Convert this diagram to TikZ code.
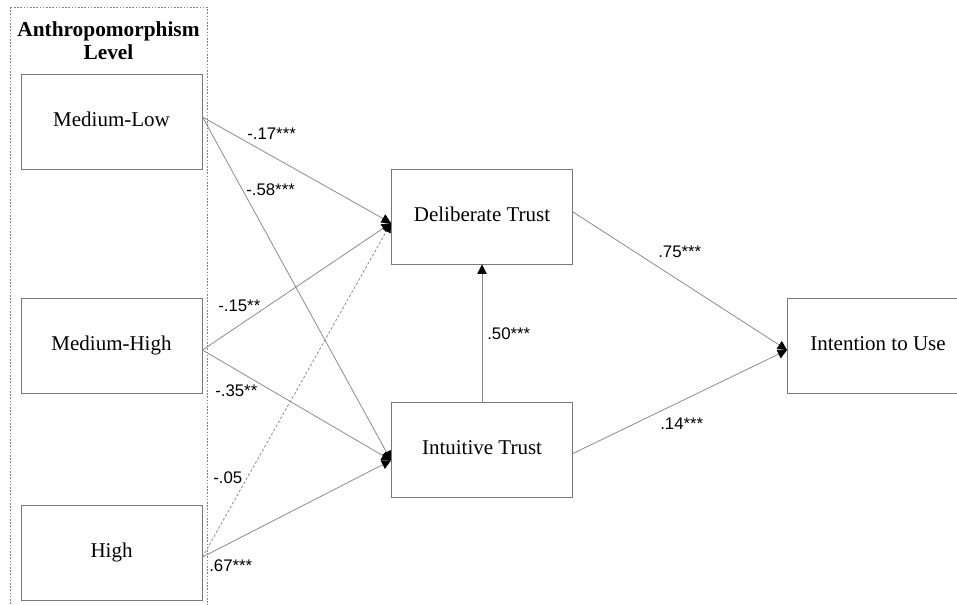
\documentclass[tikz,border=0pt]{standalone}
\usepackage{fontspec}
\setmainfont{Liberation Serif}
\newfontfamily\coeffont{Liberation Sans}
\usetikzlibrary{arrows.meta}

\definecolor{boxgray}{RGB}{120,120,120}
\definecolor{linegray}{RGB}{140,140,140}
\definecolor{framegray}{RGB}{130,130,130}

\tikzset{
  box/.style={draw=boxgray, line width=0.7pt, minimum width=135.75pt, minimum height=71.25pt,
    inner sep=0pt, font=\fontsize{15.75}{18}\selectfont, text height=0.8em, text depth=0.1em},
  link/.style={draw=linegray, line width=0.6pt, -{Triangle[length=7pt,width=7pt,color=black]}},
  weak/.style={link, dash pattern=on 2pt off 1.5pt},
  coef/.style={anchor=base west, inner sep=0pt, font=\coeffont\fontsize{12.6}{14}\selectfont}
}

\begin{document}
\begin{tikzpicture}[x=0.75pt, y=-0.75pt]
% Canvas
\path[use as bounding box, fill=white] (0,0) rectangle (957,605);
\clip (0,0) rectangle (957,605);

% Predictor group
\draw[framegray, line width=0.6pt, dash pattern=on 1.2pt off 1.2pt] (10,7) rectangle (207,640);
\node[anchor=north, align=center, inner sep=0pt, font=\bfseries\fontsize{16}{17.25}\selectfont] (title) at (108.5,21.5) {Anthropomorphism\\Level};

% Boxes
\node[box] (ML) at (111.5,121.5) {Medium-Low};
\node[box] (MH) at (111.5,345.5) {Medium-High};
\node[box] (HI) at (111.5,552.5) {High};
\node[box] (DT) at (482,216.5) {Deliberate Trust};
\node[box] (IT) at (482,449.5) {Intuitive Trust};
\node[box] (IU) at (878,345.5) {Intention to Use};

% Paths
\draw[link] ([yshift=3.4pt]ML.east) -- ([yshift=-4.9pt]DT.west);
\draw[link] ([yshift=3.4pt]ML.east) -- ([yshift=-8.2pt]IT.west);
\draw[link] ([yshift=-3.4pt]MH.east) -- ([yshift=-4.9pt]DT.west);
\draw[link] ([yshift=-3.4pt]MH.east) -- ([yshift=-8.2pt]IT.west);
\draw[weak] ([yshift=-3.4pt]HI.east) -- ([yshift=-4.9pt]DT.west);
\draw[link] ([yshift=-3.4pt]HI.east) -- ([yshift=-8.2pt]IT.west);
\draw[link] (IT.north) -- (DT.south);
\draw[link] ([yshift=3.4pt]DT.east) -- ([yshift=-3.4pt]IU.west);
\draw[link] ([yshift=-3pt]IT.east) -- ([yshift=-3.4pt]IU.west);

% Coefficients
\node[coef] (cMLDT) at (247,140) {-.17***};
\node[coef] (cMLIT) at (246,196) {-.58***};
\node[coef] (cMHDT) at (218,312) {-.15**};
\node[coef] (cMHIT) at (215,397) {-.35**};
\node[coef] (cHIDT) at (213,484) {-.05};
\node[coef] (cHIIT) at (209,571) {.67***};
\node[coef] (cITDT) at (487,340) {.50***};
\node[coef] (cDTIU) at (658,258) {.75***};
\node[coef] (cITIU) at (660,430) {.14***};
\end{tikzpicture}
\end{document}
